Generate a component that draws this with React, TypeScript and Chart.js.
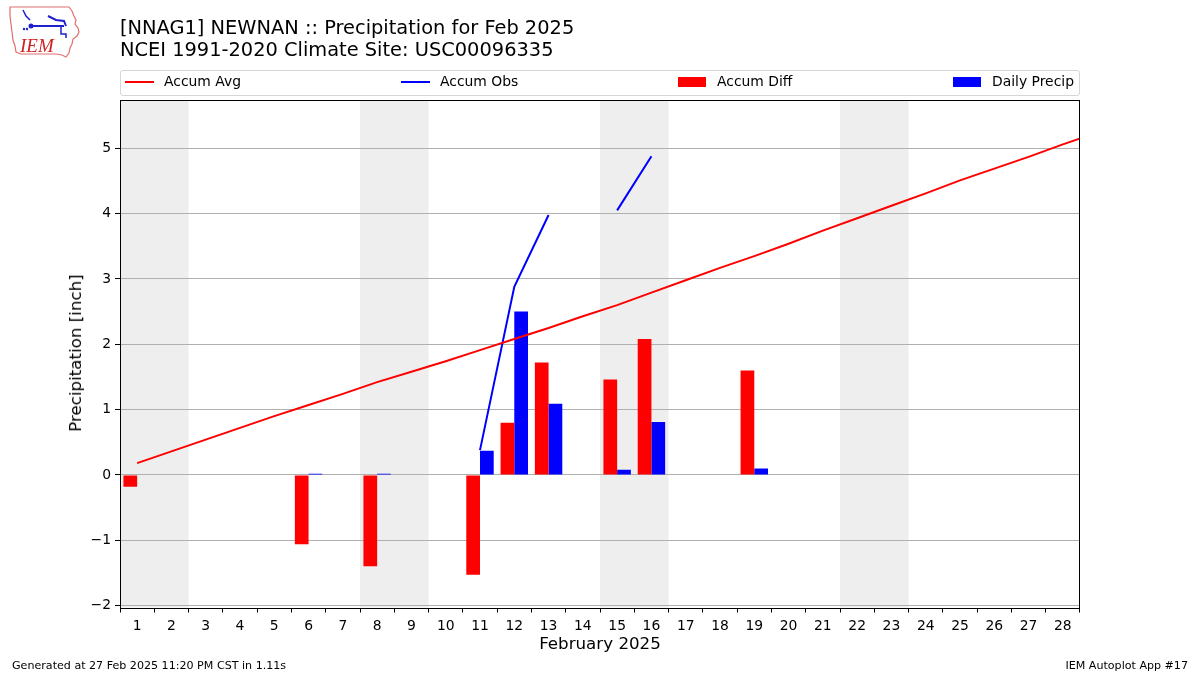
import React, { useEffect, useRef } from "react";
import { Chart, registerables } from "chart.js";

Chart.register(...registerables);

// ---- data ----
const days = [1, 2, 3, 4, 5, 6, 7, 8, 9, 10, 11, 12, 13, 14, 15, 16, 17, 18, 19, 20, 21, 22, 23, 24, 25, 26, 27, 28];
// climatology accumulation (last value = day after month end, clipped by the axis)
const avgDays = [1, 2, 3, 4, 5, 6, 7, 8, 9, 10, 11, 12, 13, 14, 15, 16, 17, 18, 19, 20, 21, 22, 23, 24, 25, 26, 27, 28, 29];
const accumAvg = [0.18, 0.36, 0.54, 0.72, 0.9, 1.07, 1.24, 1.42, 1.58, 1.74, 1.91, 2.08, 2.25, 2.43, 2.6, 2.79, 2.98, 3.17, 3.35, 3.54, 3.74, 3.93, 4.12, 4.31, 4.51, 4.69, 4.87, 5.06, 5.24];
const accumObs = [null, null, null, null, null, null, null, null, null, null, 0.38, 2.88, 3.98, null, 4.05, 4.88, null, null, null, null, null, null, null, null, null, null, null, null];
const accumDiff = [-0.18, null, null, null, null, -1.06, null, -1.4, null, null, -1.53, 0.8, 1.72, null, 1.46, 2.08, null, null, 1.6, null, null, null, null, null, null, null, null, null];
const dailyPrecip = [null, null, null, null, null, 0.01, null, 0.01, null, null, 0.37, 2.5, 1.09, null, 0.08, 0.81, null, null, 0.1, null, null, null, null, null, null, null, null, null];
const weekendStarts = [1, 8, 15, 22];
const yTicks = [-2, -1, 0, 1, 2, 3, 4, 5];
const legendLabels = ["Accum Avg", "Accum Obs", "Accum Diff", "Daily Precip"];
const colors = ["#ff0000", "#0000ff", "#ff0000", "#0000ff"];

const FONT = "'DejaVu Sans', sans-serif";

const bgPlugin = {
  id: "weekendBg",
  beforeDraw(chart: any) {
    const { ctx, chartArea } = chart;
    const xs = chart.scales.x;
    ctx.save();
    ctx.fillStyle = "#ffffff";
    ctx.fillRect(0, 0, chart.width, chart.height);
    ctx.fillStyle = "#eeeeee";
    weekendStarts.forEach((d) => {
      const x0 = Math.max(xs.getPixelForValue(d - 0.5), chartArea.left);
      const x1 = Math.min(xs.getPixelForValue(d + 1.5), chartArea.right);
      ctx.fillRect(x0, chartArea.top, x1 - x0, chartArea.bottom - chartArea.top);
    });
    ctx.restore();
  },
  afterDraw(chart: any) {
    const { ctx, chartArea } = chart;
    ctx.save();
    ctx.strokeStyle = "#000";
    ctx.lineWidth = 1;
    ctx.strokeRect(
      Math.round(chartArea.left) + 0.5,
      Math.round(chartArea.top) + 0.5,
      Math.round(chartArea.right - chartArea.left) - 1,
      Math.round(chartArea.bottom - chartArea.top)
    );
    ctx.restore();
  },
};

function App() {
  const ref = useRef<HTMLCanvasElement>(null);

  useEffect(() => {
    const canvas = ref.current;
    if (!canvas) return;
    const chart = new Chart(canvas, {
      type: "bar",
      data: {
        datasets: [
          {
            type: "line",
            label: legendLabels[0],
            data: avgDays.map((d, i) => ({ x: d, y: accumAvg[i] })),
            borderColor: colors[0],
            backgroundColor: colors[0],
            borderWidth: 2,
            pointRadius: 0,
            tension: 0,
          },
          {
            type: "line",
            label: legendLabels[1],
            data: days.map((d, i) => ({ x: d, y: accumObs[i] })),
            borderColor: colors[1],
            backgroundColor: colors[1],
            borderWidth: 2,
            pointRadius: 0,
            spanGaps: false,
            tension: 0,
          },
          {
            type: "bar",
            label: legendLabels[2],
            data: days.map((d, i) => ({ x: d, y: accumDiff[i] })),
            backgroundColor: colors[2],
            borderWidth: 0,
            inflateAmount: 0,
            categoryPercentage: 0.8,
            barPercentage: 1.0,
          },
          {
            type: "bar",
            label: legendLabels[3],
            data: days.map((d, i) => ({ x: d, y: dailyPrecip[i] })),
            backgroundColor: colors[3],
            borderWidth: 0,
            inflateAmount: 0,
            minBarLength: 1.2,
            categoryPercentage: 0.8,
            barPercentage: 1.0,
          },
        ] as any,
      },
      options: {
        animation: false,
        responsive: false,
        maintainAspectRatio: false,
        layout: { padding: { top: 100, right: 120, left: 0, bottom: 0 } },
        plugins: {
          legend: { display: false },
          title: { display: false },
          tooltip: { enabled: false },
        },
        scales: {
          x: {
            type: "linear",
            min: 0.5,
            max: 28.5,
            offset: false,
            afterBuildTicks: (s: any) => {
              s.ticks = days.map((v) => ({ value: v }));
            },
            afterFit: (s: any) => {
              s.height = 67.5;
            },
            ticks: {
              autoSkip: false,
              maxRotation: 0,
              padding: 6,
              color: "#000",
              font: { family: FONT, size: 13.9 },
              callback: (v: any) => String(v),
            },
            grid: {
              display: true,
              drawOnChartArea: false,
              drawTicks: true,
              tickLength: 5,
              tickColor: "#000",
              color: "#000",
            },
            border: { display: false },
          },
          y: {
            type: "linear",
            min: -2.03,
            max: 5.74,
            afterBuildTicks: (s: any) => {
              s.ticks = yTicks.map((v) => ({ value: v }));
            },
            afterFit: (s: any) => {
              s.width = 120;
            },
            ticks: {
              padding: 4,
              color: "#000",
              font: { family: FONT, size: 13.9 },
              callback: (v: any) => (v < 0 ? "\u2212" + Math.abs(v) : String(v)),
            },
            grid: {
              color: "#b0b0b0",
              lineWidth: 1,
              tickLength: 5,
              tickColor: "#000",
            },
            border: { display: false },
          },
        },
      } as any,
      plugins: [bgPlugin],
    });
    return () => chart.destroy();
  }, []);

  const legendPos = [
    { hx: 125, tx: 164, kind: "line" },
    { hx: 401, tx: 440, kind: "line" },
    { hx: 678, tx: 717, kind: "rect" },
    { hx: 953, tx: 992, kind: "rect" },
  ];

  return (
    <div
      style={{
        position: "absolute",
        left: 0,
        top: 0,
        width: 1200,
        height: 675,
        background: "#fff",
        fontFamily: FONT,
        color: "#000",
        overflow: "hidden",
      }}
    >
      <canvas ref={ref} width={1200} height={675} style={{ position: "absolute", left: 0, top: 0, width: 1200, height: 675 }} />

      {/* logo */}
      <svg width={80} height={60} style={{ position: "absolute", left: 6, top: 2 }} viewBox="0 0 80 60">
        <path
          d="M4 5 L63 5 L66 9 L68 14 L70 18 L69 22 L72 26 L73 30 L71 34 L67 37 L66 42 L64 46 L63 51 L60 55 L56 53 L50 52 L40 52 L30 52 L15 52 L10 50 L9 44 L7 38 L6 30 L5 22 L4 14 Z"
          fill="#fff"
          stroke="#e07070"
          strokeWidth={1.2}
        />
        <path d="M17 8 L20 14 L24 18" stroke="#2020d0" strokeWidth={1.5} fill="none" />
        <circle cx={25} cy={24} r={2.5} fill="#2020d0" />
        <line x1={25} y1={24} x2={58} y2={24} stroke="#2020d0" strokeWidth={2} />
        <path d="M42 14 L50 18 L58 19 L60 24" stroke="#2020d0" strokeWidth={2} fill="none" />
        <path d="M55 24 L55 32 L60 32 L60 36" stroke="#2020d0" strokeWidth={1.5} fill="none" />
        <circle cx={18} cy={27} r={1.2} fill="#2020d0" />
        <circle cx={21} cy={27} r={1.2} fill="#2020d0" />
        <text x={14} y={50} fill="#d02020" fontFamily="'Liberation Serif', serif" fontStyle="italic" fontSize={19}>
          IEM
        </text>
      </svg>

      {/* title */}
      <div style={{ position: "absolute", left: 120, top: 17, fontSize: 19.4, lineHeight: "21.5px", whiteSpace: "pre" }}>
        <div>[NNAG1] NEWNAN :: Precipitation for Feb 2025</div>
        <div>NCEI 1991-2020 Climate Site: USC00096335</div>
      </div>

      {/* legend */}
      <div
        style={{
          position: "absolute",
          left: 120,
          top: 70,
          width: 958,
          height: 24,
          border: "1px solid #d6d6d6",
          borderRadius: 3,
          background: "rgba(255,255,255,0.8)",
        }}
      />
      {legendLabels.map((lab, i) => (
        <React.Fragment key={lab}>
          {legendPos[i].kind === "line" ? (
            <div style={{ position: "absolute", left: legendPos[i].hx, top: 81, width: 29, height: 2, background: colors[i] }} />
          ) : (
            <div style={{ position: "absolute", left: legendPos[i].hx, top: 77, width: 28, height: 10, background: colors[i] }} />
          )}
          <div style={{ position: "absolute", left: legendPos[i].tx, top: 73, fontSize: 13.9, lineHeight: "17px", whiteSpace: "pre" }}>
            {lab}
          </div>
        </React.Fragment>
      ))}

      {/* axis titles */}
      <div
        style={{
          position: "absolute",
          left: 75,
          top: 353,
          fontSize: 16.7,
          lineHeight: "20px",
          whiteSpace: "pre",
          transform: "translate(-50%, -50%) rotate(-90deg)",
        }}
      >
        Precipitation [inch]
      </div>
      <div
        style={{
          position: "absolute",
          left: 600,
          top: 633,
          fontSize: 16.7,
          lineHeight: "20px",
          whiteSpace: "pre",
          transform: "translateX(-50%)",
        }}
      >
        February 2025
      </div>

      {/* footer */}
      <div style={{ position: "absolute", left: 12, top: 659, fontSize: 11.1, lineHeight: "13px", whiteSpace: "pre" }}>
        Generated at 27 Feb 2025 11:20 PM CST in 1.11s
      </div>
      <div style={{ position: "absolute", right: 12, top: 659, fontSize: 11.1, lineHeight: "13px", whiteSpace: "pre" }}>
        IEM Autoplot App #17
      </div>
    </div>
  );
}

export default App;
